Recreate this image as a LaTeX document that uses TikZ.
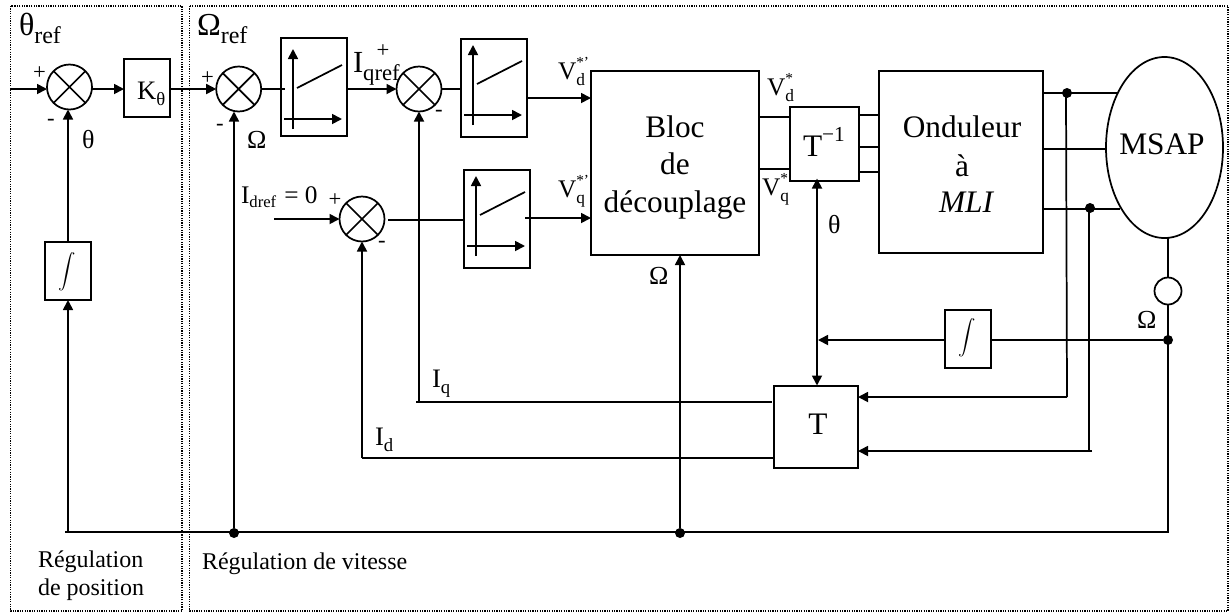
\documentclass[tikz,border=0pt]{standalone}
\usepackage{fontspec}
\setmainfont{Liberation Serif}
\usetikzlibrary{arrows.meta,shapes.geometric}
\newcommand\szf[1]{\fontsize{#1}{#1}\selectfont}
\newcommand\dn[3]{\raisebox{-#1pt}{\szf{#2}#3}}
\newcommand\up[3]{\raisebox{#1pt}{\szf{#2}#3}}
% V label: letter, subscript, superscript
\newcommand\vlab[3]{\szf{19}#1\rlap{\dn{5.2}{13}{#2}}\up{8.5}{11.5}{#3}}
\newcommand\lab[5]{\node[txt] (#1) at (#2,#3) {\szf{#4}#5};}
\newcommand\clab[5]{\node[ctxt] (#1) at (#2,#3) {\szf{#4}#5};}
\newcommand\sign[4]{\node[inner sep=0pt,outer sep=0pt] (#1) at (#2,#3) {\szf{17}#4};}
\newcommand\blklim[4]{%
  \node[blk,minimum width=66*0.75pt,minimum height=98*0.75pt,anchor=north west] (#1) at (#2,#3) {};
  \draw[wire,arr] (#2+12,#3+86+#4) -- (#2+12,#3+6+#4);
  \draw[wire,arr] (#2+3,#3+76+#4) -- (#2+61,#3+76+#4);
  \draw[wire] (#2+16,#3+45+#4) -- (#2+61,#3+22+#4);}
\newcommand\crossed[1]{\draw[wire] (#1.45) -- (#1.225) (#1.135) -- (#1.315);}
\tikzset{
  wire/.style={line width=1.3pt,black},
  arr/.style={-{Triangle[length=7.5pt,width=7.5pt]}},
  blk/.style={draw,line width=1.3pt,inner sep=0pt,outer sep=0pt},
  sumc/.style={draw,circle,line width=1.3pt,minimum size=45*0.75pt,inner sep=0pt,outer sep=0pt},
  jdot/.style={fill=black,circle,minimum size=10*0.75pt,inner sep=0pt,outer sep=0pt},
  zone/.style={line width=0.8pt,dash pattern=on 0.9pt off 0.9pt},
  txt/.style={anchor=base west,inner sep=0pt,outer sep=0pt},
  ctxt/.style={anchor=base,inner sep=0pt,outer sep=0pt},
  intg/.style={inner sep=0pt,outer sep=0pt},
}
\begin{document}
\begin{tikzpicture}[x=0.75pt,y=-0.75pt]
\useasboundingbox (0,0) rectangle (1232,612);
% zones
\draw[zone] (10.5,6) rectangle (182,611);
\draw[zone] (189.5,6) rectangle (1228,611);
% summers
\node[sumc] (s1) at (69.5,87) {}; \crossed{s1}
\node[sumc] (s2) at (238.7,89) {}; \crossed{s2}
\node[sumc] (s3) at (419,89) {}; \crossed{s3}
\node[sumc] (s4) at (362,219) {}; \crossed{s4}
% blocks
\node[blk,minimum width=46*0.75pt,minimum height=58*0.75pt] (kt) at (147,88) {};
\node[blk,minimum width=46*0.75pt,minimum height=58*0.75pt] (int1) at (68,271) {};
\node[blk,minimum width=46*0.75pt,minimum height=58*0.75pt] (int2) at (968,339) {};
\blklim{l1}{281}{38}{5}
\blklim{l2}{461}{39}{0}
\blklim{l3}{464}{170}{0}
\node[blk,minimum width=168*0.75pt,minimum height=184*0.75pt] (bloc) at (675,163) {};
\node[blk,minimum width=69*0.75pt,minimum height=74*0.75pt] (tinv) at (824.5,144) {};
\node[blk,minimum width=84*0.75pt,minimum height=82*0.75pt] (tb) at (816,427) {};
\node[blk,minimum width=164*0.75pt,minimum height=182*0.75pt] (ond) at (961,162) {};
\node[draw,ellipse,line width=1.3pt,minimum width=117*0.75pt,minimum height=181*0.75pt,inner sep=0pt,outer sep=0pt] (msap) at (1164.5,147.5) {};
\node[draw,circle,line width=1.3pt,minimum size=27*0.75pt,inner sep=0pt,outer sep=0pt] (cap) at (1168,291) {};
% junctions and free ends
\node[jdot] (j1) at (1067,93) {};
\node[jdot] (j2) at (1090,208) {};
\node[jdot] (j3) at (1168,340) {};
\node[jdot] (j4) at (234,533) {};
\node[jdot] (j5) at (680,533) {};
\coordinate (in1) at (10,89);
\coordinate (in4) at (274,219);
\coordinate (bl) at (65,532);
\coordinate (br) at (1168,532);
\coordinate (qc) at (419,402);
\coordinate (dc) at (362,458);
\coordinate (m1) at (1118,93);
\coordinate (m2) at (1106,149);
\coordinate (m3) at (1120,209);
\coordinate (a1) at (858,397);
\coordinate (a1r) at (1067,397);
\coordinate (a2) at (858,451);
\coordinate (a2r) at (1092,451);
\coordinate (th) at (818,340);
% forward path
\draw[wire,arr] (in1) -- (s1.west |- in1);
\draw[wire,arr] (s1.east |- in1) -- (kt.west |- in1);
\draw[wire,arr] (kt.east |- in1) -- (s2.west);
\draw[wire] (s2.east) -- (285,89);
\draw[wire,arr] (l1.east |- s3) -- (s3.west);
\draw[wire] (s3.east) -- (l2.west |- s3);
\draw[wire,arr] (l2.east |- 0,98) -- (bloc.west |- 0,98);
\draw[wire,arr] (in4) -- (s4.west);
\draw[wire] (388,220) -- (l3.west |- 0,220);
\draw[wire,arr] (525,218) -- (bloc.west |- 0,218);
\draw[wire] (bloc.east |- 0,117) -- (tinv.west |- 0,117);
\draw[wire] (bloc.east |- 0,169) -- (tinv.west |- 0,169);
\draw[wire] (tinv.east |- 0,115) -- (ond.west |- 0,115);
\draw[wire] (tinv.east |- 0,147) -- (ond.west |- 0,147);
\draw[wire] (tinv.east |- 0,172) -- (ond.west |- 0,172);
\draw[wire] (ond.east |- m1) -- (m1);
\draw[wire] (ond.east |- m2) -- (m2);
\draw[wire] (ond.east |- m3) -- (m3);
% feedback
\draw[wire] (bl) -- (br) -- (cap.south);
\draw[wire] (cap.north) -- (msap.south -| cap);
\draw[wire,arr] (j4) -- (s2.south -| j4);
\draw[wire,arr] (j5) -- (bloc.south -| j5);
\draw[wire,arr] (68,532) -- (int1.south);
\draw[wire,arr] (int1.north) -- (s1.south -| int1);
\draw[wire,arr] (qc) -- (s3.south);
\draw[wire,arr] (dc) -- (s4.south);
\draw[wire] (416,402) -- (772,402);
\draw[wire] (dc) -- (773,458);
\draw[wire] (j3) -- (int2.east |- j3);
\draw[wire,arr] (int2.west |- th) -- (th);
\draw[wire,{Triangle[length=7.5pt,width=7.5pt]}-{Triangle[length=7.5pt,width=7.5pt]}] (817,178.5) -- (817,385.5);
\draw[wire] (1066,93) -- (a1r);
\draw[wire,arr] (a1r) -- (a1);
\draw[wire] (1089,208) -- (1089,451);
\draw[wire,arr] (a2r) -- (a2);
% titles
\lab{t1}{19}{35}{24}{θ\dn{6}{18}{ref}}
\lab{t2}{197}{35}{24}{Ω\dn{6}{18}{ref}}
\lab{t3}{137}{99}{20}{K\dn{5.2}{14}{θ}}
\lab{t4}{82}{148}{19.5}{θ}
\lab{t5}{247}{148}{19.5}{Ω}
\lab{t6}{353}{72}{23}{I\dn{6}{17}{qref}}
\lab{t7}{241}{203}{19}{I\dn{3}{12.5}{dref}\hspace{6pt}= 0}
\lab{t8}{558}{79}{19}{\vlab{V}{d}{*'}}
\lab{t9}{558}{197}{19}{\vlab{V}{q}{*'}}
\lab{t10}{767}{95}{19}{\vlab{V}{d}{*}}
\lab{t11}{762}{195}{19}{\vlab{V}{q}{*}}
\lab{t12}{828}{233}{19.5}{θ}
\lab{t13}{649}{284}{19.5}{Ω}
\lab{t14}{1137}{328}{19.5}{Ω}
\lab{t15}{432}{387}{20}{I\dn{4.5}{14}{q}}
\lab{t16}{375}{445}{20}{I\dn{5}{14}{d}}
\lab{t17}{38}{567}{18}{Régulation}
\lab{t18}{38}{595}{18}{de position}
\lab{t19}{202}{569}{18}{Régulation de vitesse}
\clab{b1}{675}{137}{23.5}{Bloc}
\clab{b2}{675}{174}{23.5}{de}
\clab{b3}{675}{212}{23.5}{découplage}
\clab{o1}{962}{137}{23.5}{Onduleur}
\clab{o2}{962}{176}{23.5}{à}
\clab{o3}{966}{212}{23.5}{\itshape MLI}
\clab{mt}{1162}{154}{23.5}{MSAP}
\lab{ti}{803}{156}{23.5}{T\up{11}{16}{−1}}
\clab{tt}{818}{434}{23.5}{T}
\node[intg] (i1) at (67,272) {\scalebox{1.3}{$\displaystyle\int$}};
\node[intg] (i2) at (967,337.5) {\scalebox{1.3}{$\displaystyle\int$}};
% signs
\sign{p1}{39.5}{73}{+}
\sign{m1s}{51}{122}{-}
\sign{p2}{207.5}{78}{+}
\sign{m2s}{220}{127}{-}
\sign{p3}{383}{51}{+}
\sign{m3s}{439}{113}{-}
\sign{p4}{335}{200}{+}
\sign{m4s}{382}{244}{-}
\end{tikzpicture}
\end{document}
